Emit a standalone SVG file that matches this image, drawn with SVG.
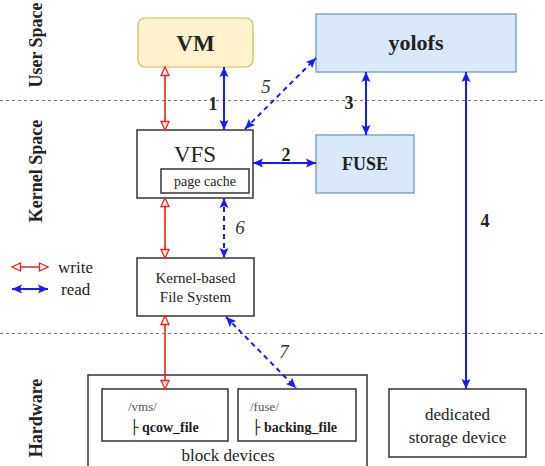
<svg xmlns="http://www.w3.org/2000/svg" width="545" height="466" viewBox="0 0 545 466">
<defs>
<marker id="bh" markerUnits="userSpaceOnUse" markerWidth="12" markerHeight="12" viewBox="0 0 12 12" refX="11" refY="6" orient="auto-start-reverse"><path d="M1,1.5 L11,6 L1,10.5 L3,6 Z" fill="#1a1aff"/></marker>
<marker id="rh" markerUnits="userSpaceOnUse" markerWidth="12" markerHeight="12" viewBox="0 0 12 12" refX="10.5" refY="6" orient="auto-start-reverse"><path d="M2,2 L10.5,6 L2,10 Z" fill="#fff" stroke="#ff1a1a" stroke-width="1.3"/></marker>
</defs>
<style>
.sep{stroke:#777;stroke-width:1;stroke-dasharray:3 3;fill:none}
.box{fill:#fff;stroke:#333;stroke-width:1.5}
.blue{fill:#dae8fc;stroke:#6c8ebf;stroke-width:1.2}
.b{stroke:#1a1aff;stroke-width:2;fill:none;marker-start:url(#bh);marker-end:url(#bh)}
.bd{stroke:#1a1aff;stroke-width:2;fill:none;stroke-dasharray:5 4;marker-start:url(#bh);marker-end:url(#bh)}
.r{stroke:#ff1a1a;stroke-width:1.6;fill:none;marker-start:url(#rh);marker-end:url(#rh)}
.t{text-anchor:middle}
.bold{font-weight:bold}
.side{font-weight:bold;font-size:18px;text-anchor:middle}
.num{font-weight:bold;font-size:18px;text-anchor:middle}
.inum{font-style:italic;font-size:19px;text-anchor:middle;fill:#333}
.tee{fill:#222;font-weight:normal;font-family:"DejaVu Sans",sans-serif}
</style>
<g font-family="Liberation Serif, serif" fill="#222">
<g id="separators">
<line class="sep" x1="0" y1="100.5" x2="545" y2="100.5"/>
<line class="sep" x1="0" y1="333.5" x2="545" y2="333.5"/>
</g>
<g id="side-labels">
<text class="side" transform="translate(42,45) rotate(-90)">User Space</text>
<text class="side" transform="translate(42,171) rotate(-90)">Kernel Space</text>
<text class="side" transform="translate(42,418) rotate(-90)">Hardware</text>
</g>
<g id="vm"><rect x="138" y="18" width="115" height="49" rx="7" fill="#fff2cc" stroke="#d6b656" stroke-width="1.2"/><text class="t bold" x="195.5" y="51" font-size="23">VM</text></g>
<g id="yolofs"><rect class="blue" x="316" y="14" width="200" height="58"/><text class="t bold" x="416" y="50" font-size="22">yolofs</text></g>
<g id="fuse"><rect class="blue" x="316" y="135" width="98" height="58"/><text class="t bold" x="365" y="170" font-size="18">FUSE</text></g>
<g id="vfs"><rect class="box" x="137" y="130" width="116" height="68"/><text class="t" x="195" y="162" font-size="23">VFS</text><rect class="box" x="161" y="169" width="88" height="24" stroke-width="1.2"/><text class="t" x="205" y="186" font-size="14">page cache</text></g>
<g id="kfs"><rect class="box" x="137" y="258" width="117" height="58"/><text class="t" x="195.5" y="283" font-size="15">Kernel-based</text><text class="t" x="195.5" y="302" font-size="15">File System</text></g>
<g id="block-devices"><path d="M88,466 V375 H367 V466" fill="#fff" stroke="#333" stroke-width="1.5"/>
<rect class="box" x="102" y="389" width="126" height="52"/><text x="128" y="411" font-size="13" fill="#555">/vms/</text><text class="bold" x="130" y="432" font-size="14"><tspan class="tee">├</tspan> qcow_file</text>
<rect class="box" x="238" y="389" width="118" height="52"/><text x="250" y="411" font-size="13" fill="#555">/fuse/</text><text class="bold" x="252" y="432" font-size="14"><tspan class="tee">├</tspan> backing_file</text>
<text class="t" x="228" y="461" font-size="17">block devices</text></g>
<g id="storage"><rect class="box" x="389" y="389" width="137" height="68"/><text class="t" x="457.5" y="420" font-size="17">dedicated</text><text class="t" x="457.5" y="443" font-size="17">storage device</text></g>
<g id="connectors">
<line class="r" x1="165" y1="67" x2="165" y2="130"/>
<line class="b" x1="224" y1="67" x2="224" y2="130"/>
<line class="bd" x1="245" y1="129" x2="316" y2="58"/>
<line class="b" x1="366" y1="72" x2="366" y2="135"/>
<line class="b" x1="253" y1="163" x2="316" y2="163"/>
<line class="b" x1="466" y1="72" x2="466" y2="389"/>
<line class="r" x1="165" y1="198" x2="165" y2="258"/>
<line class="bd" x1="224" y1="198" x2="224" y2="258"/>
<line class="r" x1="165" y1="316" x2="165" y2="389"/>
<line class="bd" x1="226" y1="317" x2="296" y2="388"/>
</g>
<g id="connector-labels">
<text class="num" x="213" y="110">1</text>
<text class="num" x="286" y="161">2</text>
<text class="num" x="349" y="109">3</text>
<text class="num" x="485" y="227">4</text>
<text class="inum" x="266" y="93">5</text>
<text class="inum" x="240" y="234">6</text>
<text class="inum" x="284" y="358">7</text>
</g>
<g id="legend">
<line class="r" x1="12" y1="267" x2="48" y2="267"/>
<line class="b" x1="12" y1="289" x2="48" y2="289"/>
<text x="58" y="273" font-size="17">write</text>
<text x="61" y="295" font-size="17">read</text>
</g>
</g>
</svg>
